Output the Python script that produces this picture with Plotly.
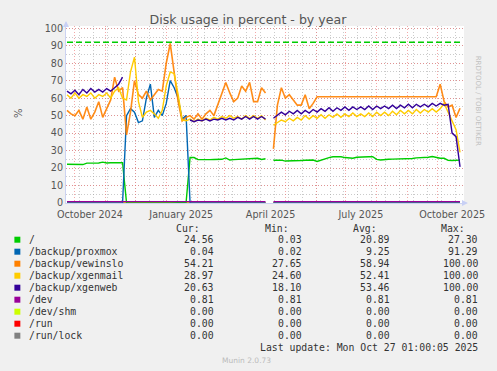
import plotly.graph_objects as go
import pandas as pd

# ---------------- data ----------------
DATES = pd.date_range("2024-09-23", periods=100, freq="4D")

ROOT = [
    22.2, 22.2, 22.1, 21.9, 22.0, 22.8, 22.8, 22.9, 22.9, 23.4,
    22.9, 23.0, 23.0, 23.0, 23.1, 0.1, 0.05, 0.05, 0.04, 0.04,
    0.04, 0.03, 0.04, 0.04, 0.05, 0.05, 0.04, 0.04, 0.05, 0.05,
    0.3, 26.0, 26.0, 24.8, 24.7, 24.8, 24.8, 24.9, 24.9, 25.0,
    25.8, 24.6, 24.8, 25.0, 25.2, 25.3, 25.4, 25.6, 25.6, 24.9,
    25.3, None, 24.5, 24.5, 24.5, 24.0, 24.0, 24.0, 24.0, 24.3,
    24.5, 24.5, 24.6, 23.8, 24.6, 25.4, 26.0, 26.5, 26.6, 26.5,
    26.0, 25.9, 25.6, 26.2, 26.4, 26.6, 26.5, 26.5, 25.0, 24.6,
    25.0, 25.0, 25.1, 25.1, 25.2, 25.2, 25.5, 25.5, 25.8, 25.9,
    25.9, 26.2, 26.6, 25.9, 25.6, 25.6, 24.4, 24.3, 24.4, 24.56,
]
PROXMOX = [
    0.03, 0.03, 0.03, 0.03, 0.03, 0.03, 0.03, 0.03, 0.03, 0.03,
    0.03, 0.03, 0.03, 0.03, 0.03, 50, 54, 52, 46, 47,
    60, 68, 49, 53, 50, 57, 70, 66, 60, 48,
    50, 0.03, 0.03, 0.03, 0.03, 0.03, 0.03, 0.03, 0.03, 0.03,
    0.03, 0.03, 0.03, 0.03, 0.03, 0.03, 0.03, 0.03, 0.03, 0.03,
    0.03, None, 0.03, 0.03, 0.03, 0.03, 0.03, 0.03, 0.03, 0.03,
    0.03, 0.03, 0.03, 0.03, 0.03, 0.03, 0.03, 0.03, 0.03, 0.03,
    0.03, 0.03, 0.03, 0.03, 0.03, 0.03, 0.03, 0.03, 0.03, 0.03,
    0.03, 0.03, 0.03, 0.03, 0.03, 0.03, 0.03, 0.03, 0.03, 0.03,
    0.03, 0.03, 0.03, 0.03, 0.03, 0.03, 0.03, 0.03, 0.03, 0.04,
]
VEWINSLO = [
    53, 51, 50, 53, 48, 55, 48, 52, 58, 49,
    54, 59, 72, 64, 66, 39, 52, 70, 62, 60,
    64, 59, 62, 65, 64, 80, 91.3, 73, 58, 47,
    49, 50, 48, 51, 48, 51, 53, 50, 56, 62,
    69, 63, 58, 60, 67, 64, 69, 58, 58, 66,
    63, None, 31, 56, 66, 60, 62, 59, 56, 56,
    62, 54, 57, 60.8, 60.8, 60.8, 60.8, 60.8, 60.8, 60.8,
    60.8, 60.8, 60.8, 60.8, 60.8, 60.8, 60.8, 60.8, 60.8, 60.8,
    60.8, 60.8, 60.8, 60.8, 60.8, 60.8, 60.8, 60.8, 60.8, 60.8,
    60.8, 60.8, 60.8, 60.8, 68, 58, 55, 56, 49, 54.21,
]
XGENMAIL = [
    62, 60, 63, 60, 62, 61, 63, 60, 62, 61,
    63, 60, 64, 66, 60, 59, 75, 83.5, 58, 49,
    52, 53, 51, 48.5, 53, 67, 75, 74, 62, 47.5,
    47, 48, 46.5, 48, 47, 48.5, 47.5, 49, 48, 49.5,
    48.5, 50, 48.5, 49.5, 48, 50, 48.5, 50, 48.5, 50,
    47.5, None, 44.5, 46, 47.5, 46.5, 48.5, 47, 49, 47.5,
    50, 48, 50, 48.5, 50.5, 48.5, 50.5, 49, 51, 49,
    51, 49.5, 51.5, 49.5, 51, 49.5, 51.5, 49.5, 52, 50,
    52, 50, 52.5, 50.5, 53, 51, 53, 51, 53.5, 51.5,
    53.5, 52, 54, 52, 54, 57, 52, 46, 42, 28.97,
]
XGENWEB = [
    64, 62.5, 64.5, 62, 65, 63, 65.5, 63.5, 65, 63.5,
    65.5, 64, 66, 68, 72, None, None, None, None, None,
    None, None, None, None, None, None, None, None, None, None,
    None, 47.5, 46.5, 47.5, 47, 48, 47, 48, 47.5, 48.5,
    47.5, 48.5, 47.5, 49, 48, 49.5, 48, 49.5, 48, 49.5,
    48, None, 48.5, 50.5, 52, 50.5, 52.5, 51, 53, 51,
    53, 51.5, 53.5, 52, 54, 52.5, 54.5, 52.5, 54.5, 53,
    55, 53, 55, 53.5, 55, 53.5, 55.5, 53.5, 55.5, 54,
    55.5, 54, 56, 54, 56, 54.5, 56.5, 54.5, 56.5, 55,
    56.5, 55, 57, 55.5, 57, 56, 56.5, 40, 38, 20.63,
]
DEV = [0.81] * 51 + [None] + [0.81] * 48
DEV_SHM = [0.0] * 51 + [None] + [0.0] * 48
RUN = [0.0] * 51 + [None] + [0.0] * 48
RUN_LOCK = [0.0] * 51 + [None] + [0.0] * 48

WARNING = 92

NAMES = ["/", "/backup/proxmox", "/backup/vewinslo", "/backup/xgenmail",
         "/backup/xgenweb", "/dev", "/dev/shm", "/run", "/run/lock"]
COLORS = ["#00CC00", "#0066B3", "#FF8000", "#FFCC00", "#330099",
          "#990099", "#CCFF00", "#FF0000", "#808080"]
VALUES = [ROOT, PROXMOX, VEWINSLO, XGENMAIL, XGENWEB, DEV, DEV_SHM, RUN, RUN_LOCK]
CUR = ["24.56", "0.04", "54.21", "28.97", "20.63", "0.81", "0.00", "0.00", "0.00"]
MIN = ["0.03", "0.02", "27.65", "24.60", "18.10", "0.81", "0.00", "0.00", "0.00"]
AVG = ["20.89", "9.25", "58.94", "52.41", "53.46", "0.81", "0.00", "0.00", "0.00"]
MAX = ["27.30", "91.29", "100.00", "100.00", "100.00", "0.81", "0.00", "0.00", "0.00"]

MONTH_TICKS = pd.date_range("2024-10-01", "2025-10-01", freq="MS")
MONTH_LABELS = {"2024-10": "October 2024", "2025-01": "January 2025",
                "2025-04": "April 2025", "2025-07": "July 2025",
                "2025-10": "October 2025"}
Y_TICKS = list(range(0, 101, 10))

TITLE = "Disk usage in percent - by year"
LAST_UPDATE = "Last update: Mon Oct 27 01:00:05 2025"

# ---------------- layout geometry ----------------
W, H = 497, 371
ML, MR, MT, MB = 66, 30, 26, 168
PW, PH = W - ML - MR, H - MT - MB


def px(x, y):
    return (x - ML) / PW, (H - MB - y) / PH


fig = go.Figure()

# zero-valued series first (they lie on the bottom edge)
draw_order = [8, 7, 6, 0, 1, 2, 3, 4, 5]
for k in draw_order:
    fig.add_trace(go.Scatter(
        x=DATES, y=VALUES[k], mode="lines", name=NAMES[k],
        line=dict(color=COLORS[k], width=1.6 if k == 2 else 1.4),
        opacity=0.9 if k == 2 else 1.0,
        connectgaps=False, showlegend=False, hoverinfo="skip"))

fig.add_trace(go.Scatter(
    x=[DATES[0], DATES[-1]], y=[WARNING, WARNING], mode="lines",
    line=dict(color="#00CC00", width=1.6, dash="6px,3px"),
    showlegend=False, hoverinfo="skip"))

FONT = "DejaVu Sans"
MONO = "DejaVu Sans Mono"
TXT = "#555555"

fig.update_layout(
    width=W, height=H, autosize=False,
    margin=dict(l=ML, r=MR, t=MT, b=MB, pad=0),
    paper_bgcolor="#F0F0F0", plot_bgcolor="#FFFFFF",
    title=dict(text=TITLE, x=248 / W, xref="container", xanchor="center",
               y=1 - 19.5 / H, yref="container", yanchor="middle",
               font=dict(family=FONT, size=12.6, color=TXT)),
    xaxis=dict(
        type="date", range=["2024-09-22", "2025-10-28"],
        tickmode="array", tickvals=list(MONTH_TICKS),
        ticktext=[MONTH_LABELS.get(d.strftime("%Y-%m"), "") for d in MONTH_TICKS],
        ticklabelshift=15, ticklabelstandoff=2, ticks="", ticklen=0,
        tickfont=dict(family=FONT, size=9.6, color=TXT),
        showgrid=True, gridcolor="rgba(235,110,110,0.6)", griddash="1px,2px", gridwidth=1,
        minor=dict(dtick=14 * 86400000, tick0="2025-02-09", showgrid=True,
                   gridcolor="rgba(160,160,160,0.55)", griddash="1px,2px", gridwidth=1),
        showline=True, linecolor="#CCD3F2", linewidth=1, zeroline=False,
    ),
    yaxis=dict(
        range=[0, 101.3], tickmode="array", tickvals=Y_TICKS,
        ticktext=[str(v) for v in Y_TICKS], ticks="",
        tickfont=dict(family=FONT, size=9.6, color=TXT),
        showgrid=True, gridcolor="rgba(235,110,110,0.6)", griddash="1px,2px", gridwidth=1,
        minor=dict(dtick=5, showgrid=True, gridcolor="rgba(160,160,160,0.55)",
                   griddash="1px,2px", gridwidth=1),
        showline=True, linecolor="#CCD3F2", linewidth=1, zeroline=False,
    ),
)

ann = []
x, y = px(10, 113)
ann.append(dict(x=x, y=y, text="%", textangle=-90, showarrow=False,
                font=dict(family=FONT, size=10, color=TXT)))
x, y = px(488, 53.5)
ann.append(dict(x=x, y=y, text="RRDTOOL / TOBI OETIKER", textangle=90, showarrow=False,
                font=dict(family=FONT, size=7, color="#C0C0C0")))

# legend header
for label, xr in zip(["Cur:", "Min:", "Avg:", "Max:"], [203, 293, 381.7, 470]):
    x, y = px(xr, 228.5)
    ann.append(dict(x=x, y=y, text=label, xanchor="right", yanchor="middle",
                    showarrow=False, font=dict(family=MONO, size=9.8, color="#333333")))

shapes = []
for i, name in enumerate(NAMES):
    yc = 239.7 + 12 * i
    x, y = px(26.5, yc)
    ann.append(dict(x=x, y=y, text=name, xanchor="left", yanchor="middle",
                    showarrow=False, font=dict(family=MONO, size=9.8, color="#333333")))
    for col, xr in zip([CUR, MIN, AVG, MAX], [216.7, 305.7, 394, 482.7]):
        x, y = px(xr, yc)
        ann.append(dict(x=x, y=y, text=col[i], xanchor="right", yanchor="middle",
                        showarrow=False, font=dict(family=MONO, size=9.8, color="#333333")))
    x0, y0 = px(14, yc + 3)
    x1, y1 = px(20, yc - 3)
    shapes.append(dict(type="rect", xref="paper", yref="paper", x0=x0, y0=y0, x1=x1, y1=y1,
                       fillcolor=COLORS[i], line=dict(width=0)))

x, y = px(482.7, 347.5)
ann.append(dict(x=x, y=y, text=LAST_UPDATE, xanchor="right", yanchor="middle",
                showarrow=False, font=dict(family=MONO, size=9.8, color="#333333")))
x, y = px(248, 360)
ann.append(dict(x=x, y=y, text="Munin 2.0.73", xanchor="center", yanchor="middle",
                showarrow=False, font=dict(family=FONT, size=7.5, color="#BBBBBB")))

# axis arrows
xa, ya = px(471, 203)
ann.append(dict(x=xa, y=ya, ax=-6, ay=0, text="", showarrow=True, arrowhead=2,
                arrowsize=1, arrowwidth=1.2, arrowcolor="#C8D0F5"))
xa, ya = px(66, 21)
ann.append(dict(x=xa, y=ya, ax=0, ay=6, text="", showarrow=True, arrowhead=2,
                arrowsize=1, arrowwidth=1.2, arrowcolor="#C8D0F5"))

for a in ann:
    a.setdefault("xref", "paper")
    a.setdefault("yref", "paper")
fig.update_layout(annotations=ann, shapes=shapes)

fig.write_html("out.html", config={"displayModeBar": False},
               post_script="document.body.style.margin='0';")
